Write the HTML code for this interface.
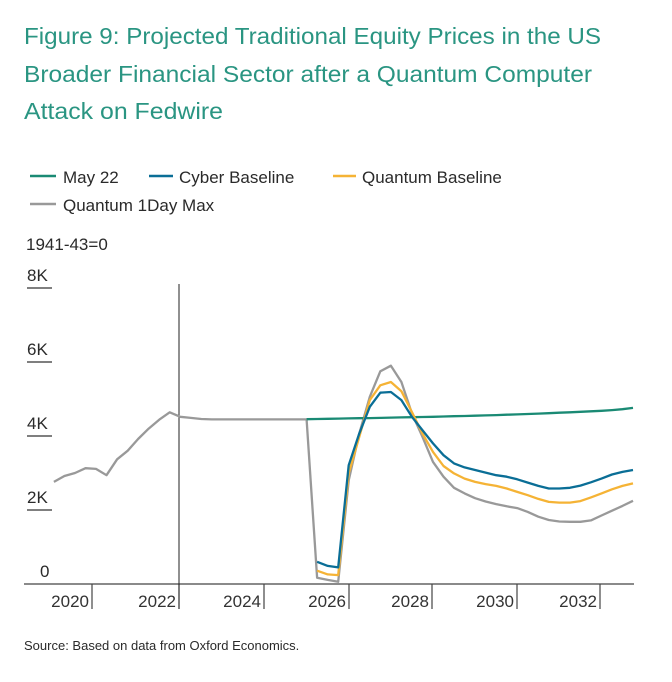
<!DOCTYPE html>
<html><head><meta charset="utf-8"><style>
html,body{margin:0;padding:0;background:#fff;}
svg{display:block;font-family:"Liberation Sans",Arial,sans-serif;}
</style></head><body>
<svg id="chart" width="672" height="682" viewBox="0 0 672 682" xmlns="http://www.w3.org/2000/svg">
<g fill="#2a9582" font-size="23.5">
<text x="24" y="44" textLength="577" lengthAdjust="spacingAndGlyphs">Figure 9: Projected Traditional Equity Prices in the US</text>
<text x="24" y="82" textLength="568" lengthAdjust="spacingAndGlyphs">Broader Financial Sector after a Quantum Computer</text>
<text x="24" y="119" textLength="199" lengthAdjust="spacingAndGlyphs">Attack on Fedwire</text>
</g>
<g font-size="17" fill="#2a2a2a">
<g><line x1="30" y1="176" x2="56" y2="176" stroke="#1a8a74" stroke-width="2.5"/><text x="63" y="183">May 22</text></g>
<g><line x1="149" y1="176" x2="173" y2="176" stroke="#0a6e96" stroke-width="2.5"/><text x="179" y="183">Cyber Baseline</text></g>
<g><line x1="333" y1="176" x2="356" y2="176" stroke="#f5b335" stroke-width="2.5"/><text x="362" y="183">Quantum Baseline</text></g>
<g><line x1="30" y1="204" x2="56" y2="204" stroke="#999" stroke-width="2.5"/><text x="63" y="211">Quantum 1Day Max</text></g>
</g>
<text x="26" y="250" font-size="17" fill="#2a2a2a">1941-43=0</text>
<g id="yaxis"></g>
<g id="xaxis"></g>
<g id="series"></g>
<text x="24" y="650" font-size="13" fill="#2a2a2a">Source: Based on data from Oxford Economics.</text>
</svg>
<script>
const yTicks=[0,2000,4000,6000,8000];
const yTickLabels=["0","2K","4K","6K","8K"];
const xTickLabels=["2020","2022","2024","2026","2028","2030","2032"];
const historyStartIndex=0;
const gray=[2760,2920,3000,3130,3110,2940,3370,3600,3920,4200,4440,4640,4520,4490,4460,4450,4450,4450,4450,4450,4450,4450,4450,4450,4450,170,110,60,2800,4070,5060,5750,5900,5460,4610,3980,3300,2900,2600,2450,2320,2230,2160,2100,2050,1950,1820,1730,1690,1680,1680,1720,1850,1980,2110,2250];
const greenStart=24;
const green=[4455,4460,4465,4470,4475,4480,4485,4490,4496,4502,4508,4514,4520,4527,4534,4541,4549,4557,4566,4575,4585,4595,4606,4617,4629,4641,4654,4667,4681,4700,4725,4760];
const shockStart=25;
const cyber=[600,490,450,3210,4070,4790,5170,5190,4970,4520,4160,3800,3480,3260,3150,3080,3010,2940,2900,2830,2740,2650,2580,2580,2600,2660,2750,2850,2960,3030,3080];
const quantum=[360,260,240,2990,3980,4970,5370,5460,5210,4650,4070,3570,3190,2990,2850,2760,2700,2650,2580,2490,2400,2300,2220,2200,2200,2240,2340,2450,2560,2650,2720];

const NS="http://www.w3.org/2000/svg";
const X0=53.9, DX=10.53, Y0=584, KY=74/2000;
const xs=i=>X0+i*DX;
const ys=v=>Y0-v*KY;
function mk(tag,attrs,parent){const e=document.createElementNS(NS,tag);for(const k in attrs)e.setAttribute(k,attrs[k]);parent.appendChild(e);return e;}
const ya=document.getElementById('yaxis'), xa=document.getElementById('xaxis'), sg=document.getElementById('series');
yTicks.forEach((v,k)=>{
  const t=mk('text',{x:v===0?40:27,y:ys(v)-7,'font-size':17,fill:'#2a2a2a'},ya);
  t.textContent=yTickLabels[k];
  
  
  if(v>0){const l=mk('line',{x1:27,x2:52,y1:ys(v),y2:ys(v),stroke:'#333','stroke-width':1.2},ya);
    
    }
});
const ax=mk('line',{x1:24,x2:634,y1:Y0,y2:Y0,stroke:'#444','stroke-width':1.2},xa);


const tickPos=[92,179,264,349,432,517,600];
xTickLabels.forEach((lab,k)=>{
  const tx=tickPos[k];
  const l=mk('line',{x1:tx,x2:tx,y1:Y0,y2:609,stroke:'#444','stroke-width':1.2},xa);
  
  
  const t=mk('text',{x:tx-3,y:607,'font-size':17,fill:'#333','text-anchor':'end'},xa);
  t.textContent=lab;
  
  
});
const vl=mk('line',{x1:179,x2:179,y1:284,y2:609,stroke:'#222','stroke-width':1},xa);


function path(arr,start,color,name){
  const d=arr.map((v,i)=>(i?'L':'M')+xs(start+i).toFixed(1)+','+ys(v).toFixed(1)).join('');
  const p=mk('path',{d:d,fill:'none',stroke:color,'stroke-width':2.3,'stroke-linejoin':'round'},sg);
  
  
}
path(gray,historyStartIndex,'#999','line-quantum-1day-max');
path(green,greenStart,'#1a8a74','line-may22');
path(quantum,shockStart,'#f5b335','line-quantum-baseline');
path(cyber,shockStart,'#0a6e96','line-cyber-baseline');
</script>
</body></html>
